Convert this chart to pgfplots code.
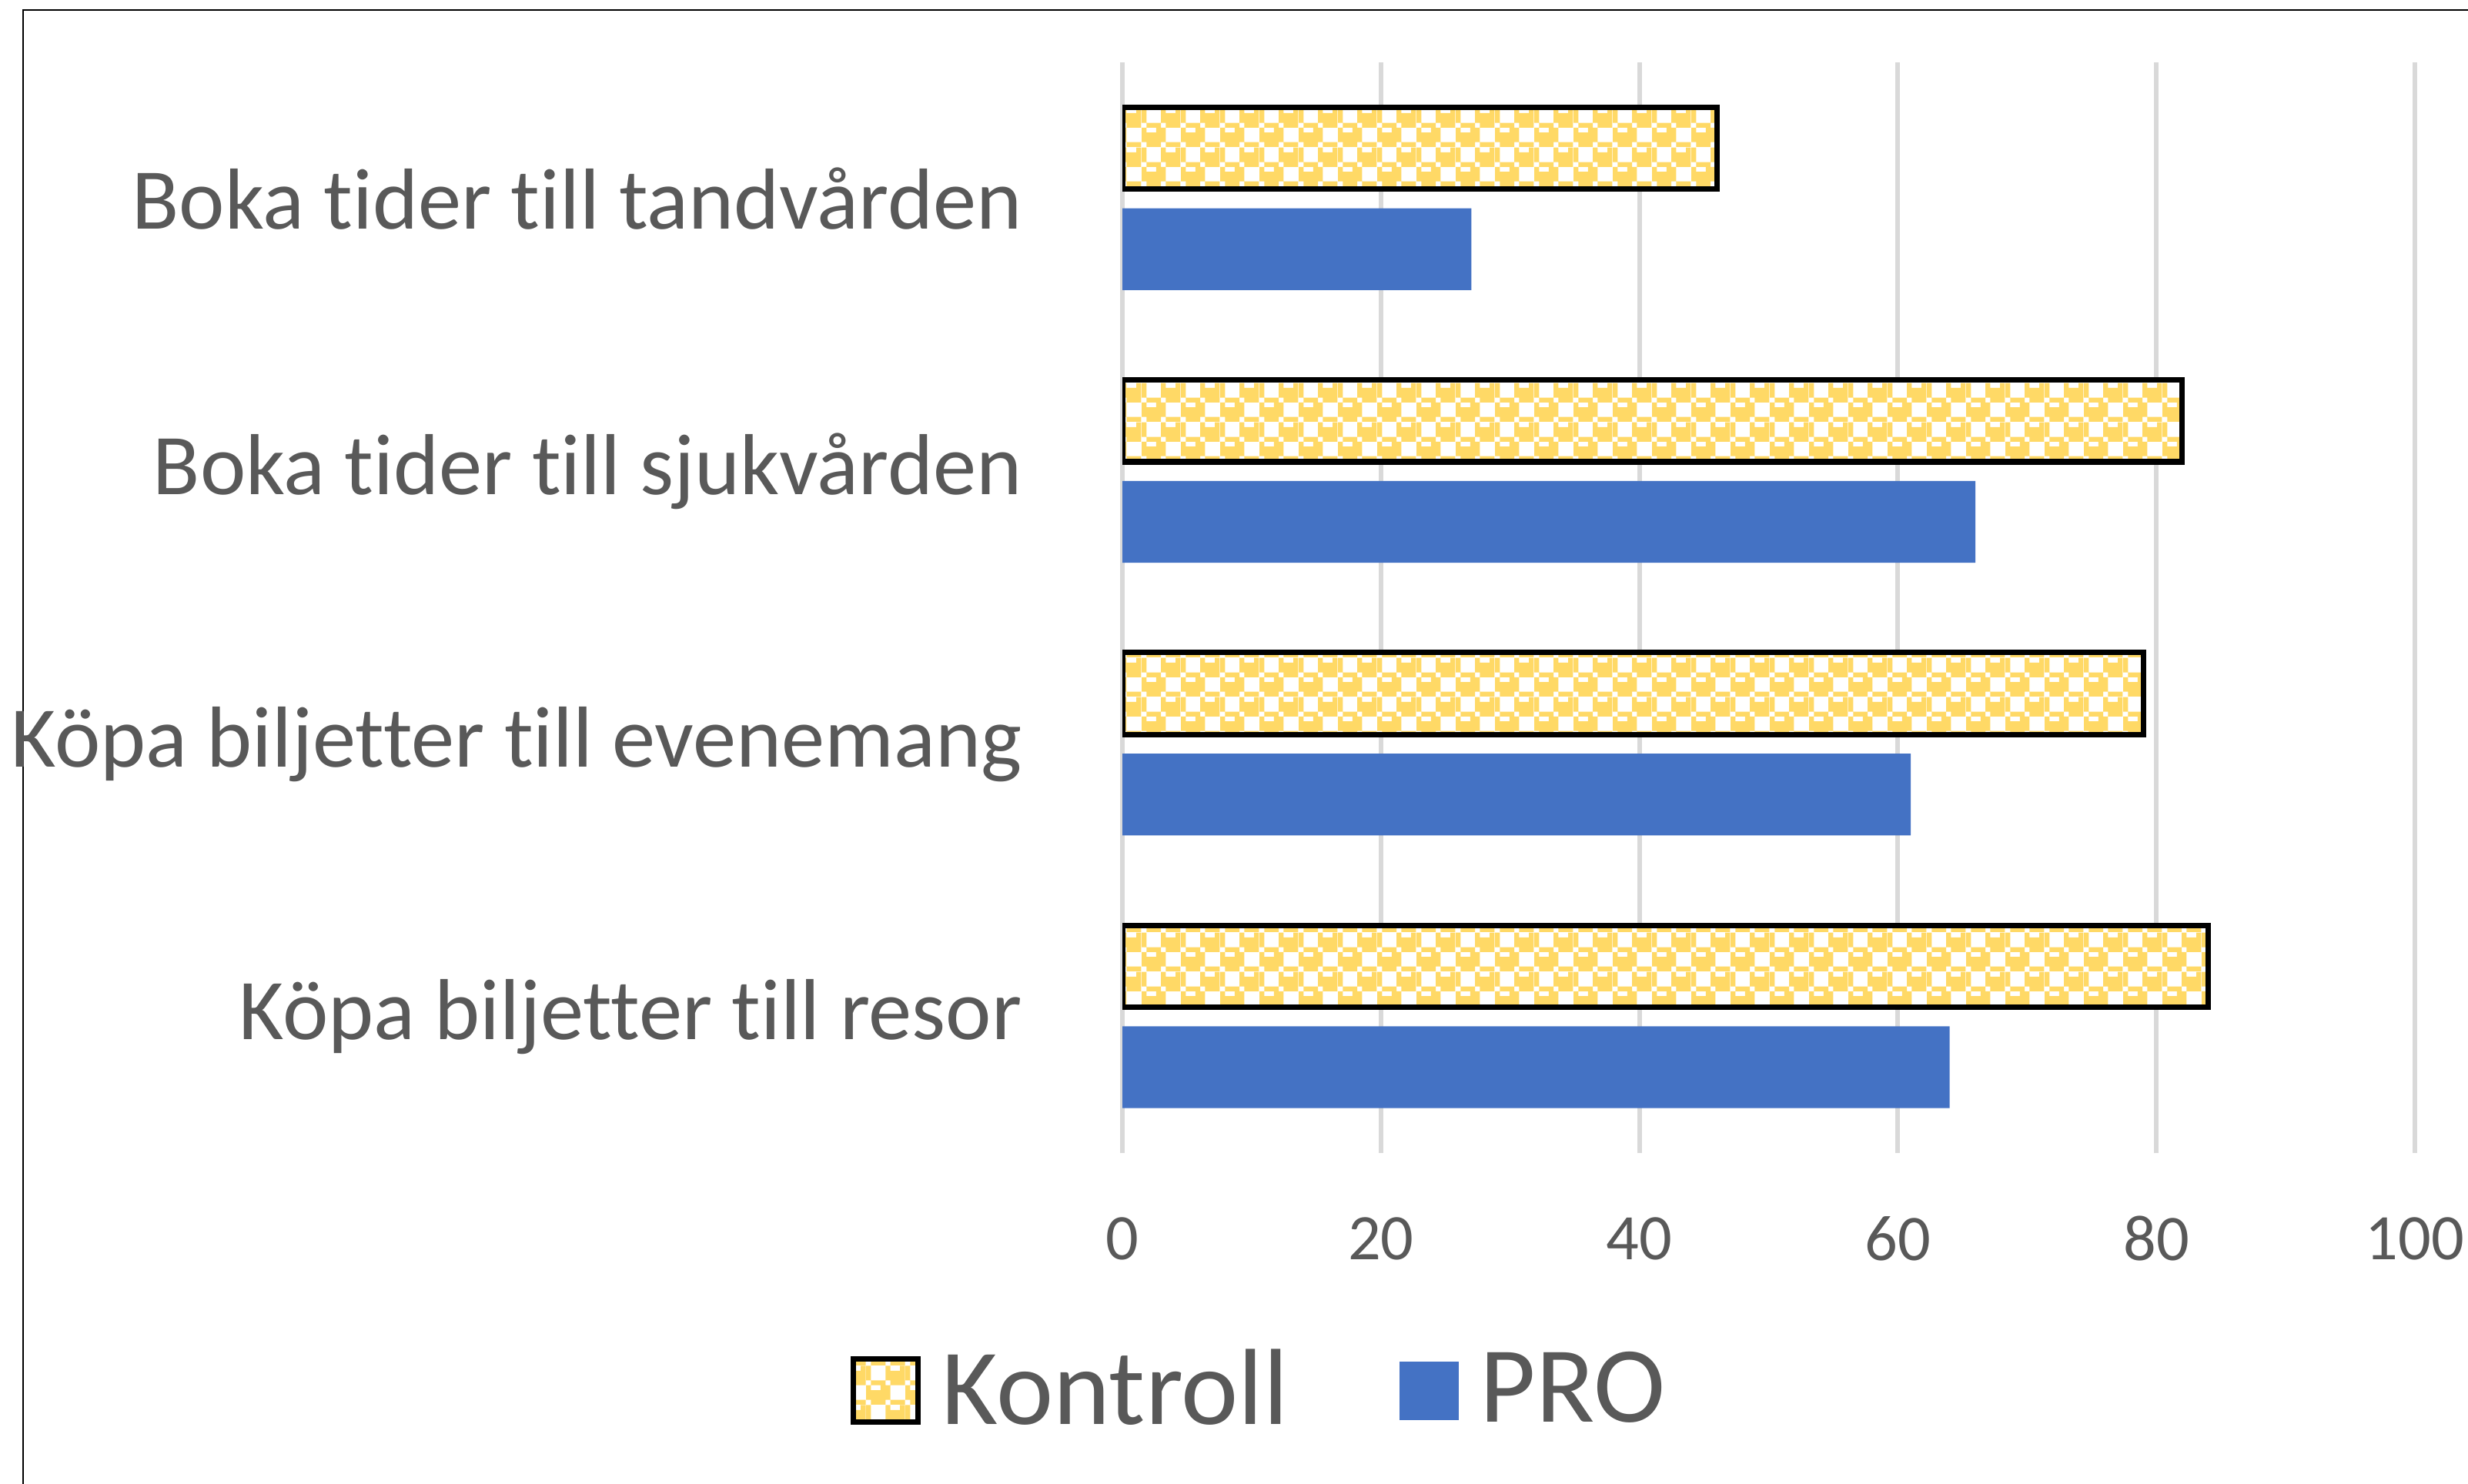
\documentclass[border=0pt]{standalone}
\usepackage{pgfplots}
\usepackage{pgfplotstable}
\pgfplotsset{compat=1.18}
\usepackage{fontspec}
\setmainfont{Carlito}[Ligatures=NoCommon, Contextuals=NoAlternate]
\usetikzlibrary{patterns}

\definecolor{kgold}{HTML}{FFD966}
\definecolor{pblue}{HTML}{4472C4}
\definecolor{gridgray}{HTML}{D9D9D9}
\definecolor{txt}{HTML}{595959}

% Excel "sphere"-like fill, 8x8 cells of 0.91pt
\pgfdeclarepatternformonly{sphere}{\pgfqpoint{0pt}{0pt}}{\pgfqpoint{7.28pt}{7.28pt}}{\pgfqpoint{7.28pt}{7.28pt}}{%
  \pgfpathrectangle{\pgfqpoint{0pt}{6.37pt}}{\pgfqpoint{0.91pt}{0.91pt}}%
  \pgfpathrectangle{\pgfqpoint{3.64pt}{6.37pt}}{\pgfqpoint{0.91pt}{0.91pt}}%
  \pgfpathrectangle{\pgfqpoint{6.37pt}{6.37pt}}{\pgfqpoint{0.91pt}{0.91pt}}%
  \pgfpathrectangle{\pgfqpoint{0pt}{4.55pt}}{\pgfqpoint{0.91pt}{1.82pt}}%
  \pgfpathrectangle{\pgfqpoint{3.64pt}{4.55pt}}{\pgfqpoint{3.64pt}{1.82pt}}%
  \pgfpathrectangle{\pgfqpoint{0.91pt}{3.64pt}}{\pgfqpoint{2.73pt}{0.91pt}}%
  \pgfpathrectangle{\pgfqpoint{4.55pt}{3.64pt}}{\pgfqpoint{2.73pt}{0.91pt}}%
  \pgfpathrectangle{\pgfqpoint{0pt}{2.73pt}}{\pgfqpoint{0.91pt}{0.91pt}}%
  \pgfpathrectangle{\pgfqpoint{2.73pt}{2.73pt}}{\pgfqpoint{1.82pt}{0.91pt}}%
  \pgfpathrectangle{\pgfqpoint{0pt}{0.91pt}}{\pgfqpoint{4.55pt}{1.82pt}}%
  \pgfpathrectangle{\pgfqpoint{0.91pt}{0pt}}{\pgfqpoint{2.73pt}{0.91pt}}%
  \pgfpathrectangle{\pgfqpoint{4.55pt}{0pt}}{\pgfqpoint{2.73pt}{0.91pt}}%
  \pgfusepath{fill}}

\pgfplotstableread{
y kontroll pro
1 84 64
2 79 61
3 82 66
4 46 27
}\datatable

\begin{document}
\begin{tikzpicture}
\path[use as bounding box] (0,0) rectangle (16.03cm,9.635cm);
\clip (0,0) rectangle (16.03cm,9.635cm);
\draw[line width=0.4pt] (0.15cm,-1cm) -- (0.15cm,9.57cm) -- (17cm,9.57cm);
\begin{axis}[
  at={(7.29cm,2.145cm)}, anchor=south west,
  width=8.395cm, height=7.085cm, scale only axis,
  xbar, bar width=0.3,
  xmin=0, xmax=100, ymin=0.5, ymax=4.5,
  xtick={0,20,...,100},
  ytick={1,2,3,4},
  yticklabels={Köpa biljetter till resor, Köpa biljetter till evenemang, Boka tider till sjukvården, Boka tider till tandvården},
  xmajorgrids, grid style={gridgray, line width=0.85pt},
  axis line style={draw=none},
  major tick length=0pt,
  tick label style={text=txt},
  yticklabel style={font=\fontsize{16}{19}\selectfont, anchor=east, inner sep=0pt, xshift=-0.645cm},
  xticklabel style={font=\fontsize{12}{14}\selectfont, anchor=center, inner sep=0pt, yshift=-0.555cm},
  /pgf/number format/assume math mode=true,
  legend style={draw=none, fill=none, font=\fontsize{20}{24}\selectfont, text=txt,
    at={(axis description cs:0.109,-0.218)}, anchor=center,
    /tikz/every even column/.append style={column sep=0.65cm}},
  legend columns=2,
]
\addplot[draw=black, line width=1pt, pattern=sphere, pattern color=kgold,
  preaction={fill=white}, bar shift=0.185,
  legend image code/.code={\draw[draw=black, line width=1pt, pattern=sphere, pattern color=kgold, preaction={fill=white}] (0cm,-0.205cm) rectangle (0.42cm,0.205cm); \path (0.49cm,0cm);}]
  table[x=kontroll, y=y] \datatable;
\addplot[draw=none, fill=pblue, bar shift=-0.185,
  legend image code/.code={\fill[pblue] (0cm,-0.19cm) rectangle (0.385cm,0.19cm); \path (0.455cm,0cm);}]
  table[x=pro, y=y] \datatable;
\legend{Kontroll, PRO}
\end{axis}
\end{tikzpicture}
\end{document}
